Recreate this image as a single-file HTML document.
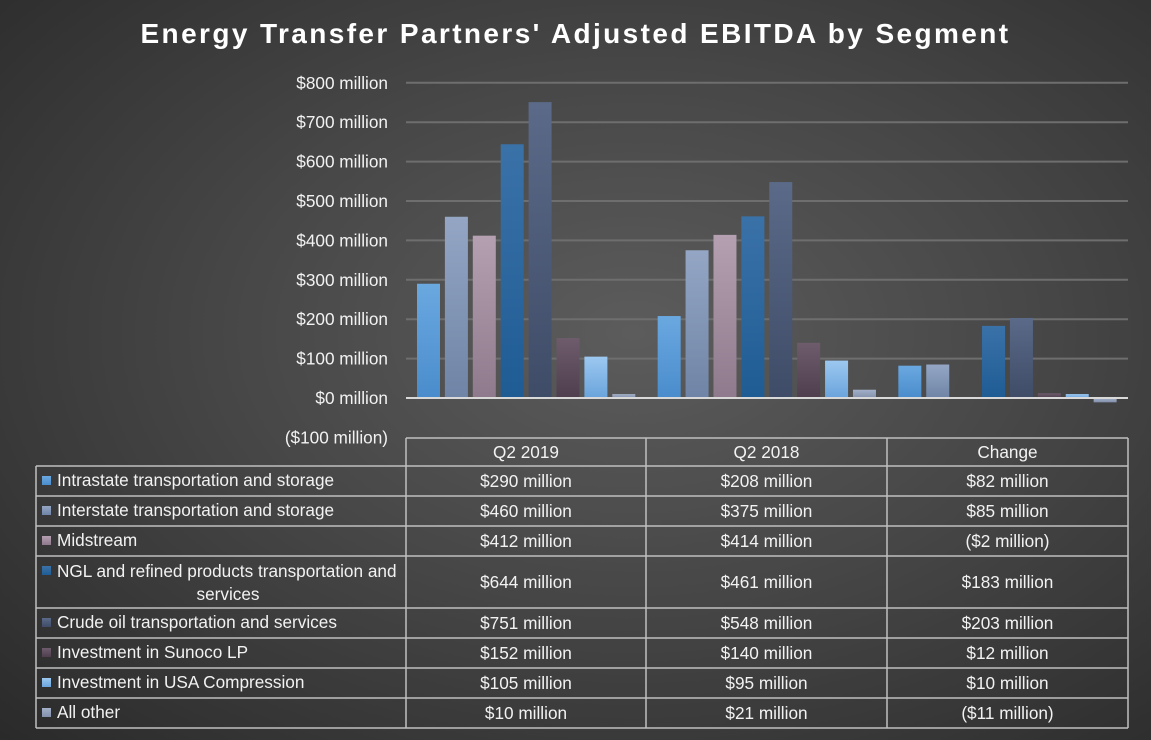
<!DOCTYPE html>
<html><head><meta charset="utf-8">
<style>
html,body{margin:0;padding:0}
body{width:1151px;height:740px;overflow:hidden;background:radial-gradient(ellipse at 55% 45%,#5c5c5c 0%,#474747 45%,#2a2a2a 100%);font-family:"Liberation Sans",sans-serif;color:#f2f2f2;position:relative}
#title{position:absolute;left:0;width:1151px;top:18px;text-align:center;font-size:28px;font-weight:bold;letter-spacing:2.4px;color:#fff}
svg{position:absolute;left:0;top:0}
</style></head><body>
<div id="title">Energy Transfer Partners' Adjusted EBITDA by Segment</div>
<svg id="chart" width="1151" height="740"></svg>
<script>
const categories=["Q2 2019","Q2 2018","Change"];
const seriesNames=["Intrastate transportation and storage","Interstate transportation and storage","Midstream","NGL and refined products transportation and services","Crude oil transportation and services","Investment in Sunoco LP","Investment in USA Compression","All other"];
const q2019=[290,460,412,644,751,152,105,10];
const q2018=[208,375,414,461,548,140,95,21];
const change=[82,85,-2,183,203,12,10,-11];
const yTicks=[-100,0,100,200,300,400,500,600,700,800];
const colors=[["#6aa8e0","#4a8ccc"],["#94a6c4","#6f84a6"],["#b4a0b0","#8e7a8c"],["#3a72a8","#1f5c94"],["#5a6a88","#3f4c68"],["#6e5c6c","#4e3e4e"],["#9cc8f0","#6aa4dc"],["#a4b0c8","#8290ac"]];
const NS="http://www.w3.org/2000/svg";
const svg=document.getElementById('chart');
const plotL=406,plotR=1128,zeroY=398,unit=0.394;
const FS=17.2;
function y(v){return zeroY-v*unit;}
function fmt(v){return v<0?"($"+(-v)+" million)":"$"+v+" million";}
function mk(tag,attrs,parent){const e=document.createElementNS(NS,tag);for(const k in attrs)e.setAttribute(k,attrs[k]);(parent||svg).appendChild(e);return e;}
const defs=mk('defs',{});
colors.forEach((c,i)=>{const g=mk('linearGradient',{id:'g'+i,x1:0,y1:0,x2:0,y2:1},defs);mk('stop',{offset:'0','stop-color':c[0]},g);mk('stop',{offset:'1','stop-color':c[1]},g);});
yTicks.forEach(t=>{
  if(t>0){const l=mk('line',{x1:plotL,x2:plotR,y1:y(t),y2:y(t),stroke:'#6e6e6e','stroke-width':2});
  
  }
  const tx=mk('text',{x:388,y:y(t)+6,'text-anchor':'end','font-size':FS,fill:'#f2f2f2'});
  tx.textContent=t<0?"($"+(-t)+" million)":"$"+t+" million";
  
  
});
const data=[q2019,q2018,change];
const groupW=(plotR-plotL)/categories.length;
data.forEach((arr,gi)=>{
  arr.forEach((v,si)=>{
    const x=plotL+gi*groupW+11+si*27.9;
    const top=Math.min(y(v),zeroY),h=Math.max(Math.abs(y(v)-zeroY),1);
    const r=mk('rect',{x:x,y:top,width:23,height:h,fill:'url(#g'+si+')'});
    
    
  });
});
const z=mk('line',{x1:plotL,x2:plotR,y1:zeroY,y2:zeroY,stroke:'#d9d9d9','stroke-width':2});


const rowTops=[438,466,496,526,556,608,638,668,698,728];
const tableL=36,colX=[406,646,887,1128];
const bc='#bfbfbf';
mk('line',{x1:colX[0],x2:colX[3],y1:438,y2:438,stroke:bc,'stroke-width':1.5});
for(let i=1;i<rowTops.length;i++) mk('line',{x1:tableL,x2:colX[3],y1:rowTops[i],y2:rowTops[i],stroke:bc,'stroke-width':1.5});
colX.forEach(cx=>mk('line',{x1:cx,x2:cx,y1:438,y2:728,stroke:bc,'stroke-width':1.5}));
mk('line',{x1:tableL,x2:tableL,y1:466,y2:728,stroke:bc,'stroke-width':1.5});
categories.forEach((c,i)=>{const t=mk('text',{x:(colX[i]+colX[i+1])/2,y:458,'text-anchor':'middle','font-size':FS,fill:'#f2f2f2'});t.textContent=c;

});
seriesNames.forEach((n,si)=>{
  const top=rowTops[si+1],bot=rowTops[si+2];
  const mid=si==3?571:(top+bot)/2;
  const sw=mk('rect',{x:42,y:mid-5,width:9,height:9,fill:'url(#g'+si+')'});
  
  
  if(si==3){
    const t1=mk('text',{x:57,y:577,'font-size':FS,fill:'#f2f2f2'});t1.textContent="NGL and refined products transportation and";
    const t2=mk('text',{x:228,y:600,'text-anchor':'middle','font-size':FS,fill:'#f2f2f2'});t2.textContent="services";
    
    
  } else {
    const t=mk('text',{x:57,y:mid+5,'font-size':FS,fill:'#f2f2f2'});t.textContent=n;
    
    
  }
  const vm=(top+bot)/2;
  data.forEach((arr,gi)=>{
    const t=mk('text',{x:(colX[gi]+colX[gi+1])/2,y:vm+6,'text-anchor':'middle','font-size':FS,fill:'#f2f2f2'});
    t.textContent=fmt(arr[si]);
    
    
  });
});
</script>
</body></html>
